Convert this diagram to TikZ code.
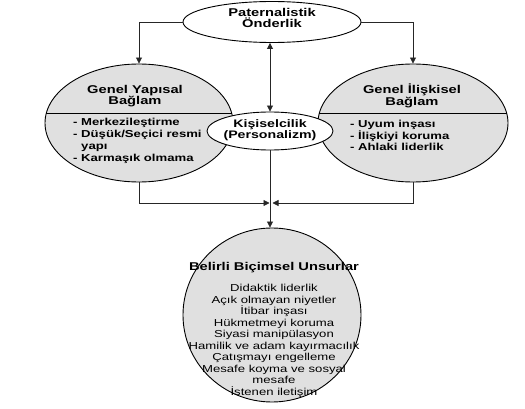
\documentclass[tikz,border=0pt]{standalone}
\usepackage{fontspec}
\setmainfont{Liberation Sans}[FakeStretch=1.3]
\usetikzlibrary{shapes.geometric,arrows.meta}
\tikzset{
	bubble/.style={draw=black, line width=0.9pt, ellipse, inner sep=0pt},
	greybubble/.style={bubble, fill=black!12},
	whitebubble/.style={bubble, fill=white},
	headtext/.style={font=\bfseries\fontsize{11.3}{11.5}\selectfont, align=center, inner sep=0pt},
	pointtext/.style={font=\bfseries\fontsize{10.1}{11.8}\selectfont, align=left, anchor=west, inner sep=0pt},
	plaintext/.style={font=\fontsize{10.1}{11.5}\selectfont, align=center, inner sep=0pt},
	link/.style={line width=0.8pt, color=black!85, -{Triangle[width=6pt,length=6pt]}}
}

\begin{document}
\begin{tikzpicture}[x=1pt, y=-1pt]
		%%%%% START %%%%%
		\useasboundingbox (0, 0) rectangle (525, 409);
		
		\node[whitebubble, minimum width=178, minimum height=41] (lead) at (272, 22) {};
		\node[greybubble, minimum width=188, minimum height=118] (struct) at (139, 123) {};
		\node[greybubble, minimum width=190, minimum height=118] (relat) at (413, 123) {};
		\draw[line width=0.9pt] (46.4, 113) -- (231.6, 113);
		\draw[line width=0.9pt] (319.4, 113) -- (506.6, 113);
		\node[whitebubble, minimum width=126, minimum height=38] (person) at (270, 131) {};
		\node[greybubble, minimum width=178, minimum height=174] (forms) at (272, 315) {};
		
		% texts
		\node[headtext] (leadtxt) at (272, 18) {Paternalistik\\Önderlik};
		\node[headtext] (structtxt) at (135, 96) {Genel Yapısal\\Bağlam};
		\node[pointtext] (structlist) at (73, 141) {- Merkezileştirme\\- Düşük/Seçici resmi\\\phantom{- }yapı\\- Karmaşık olmama};
		\node[headtext] (relattxt) at (412, 96) {Genel İlişkisel\\Bağlam};
		\node[pointtext] (relatlist) at (350, 135.5) {- Uyum inşası\\- İlişkiyi koruma\\- Ahlaki liderlik};
		\node[headtext, font=\bfseries\fontsize{10.9}{11}\selectfont] (persontxt) at (270, 130) {Kişiselcilik\\(Personalizm)};
		\node[headtext] (formstxt) at (274, 268) {Belirli Biçimsel Unsurlar};
		\node[plaintext] (formslist) at (274, 341) {Didaktik liderlik\\Açık olmayan niyetler\\İtibar inşası\\Hükmetmeyi koruma\\Siyasi manipülasyon\\Hamilik ve adam kayırmacılık\\Çatışmayı engelleme\\Mesafe koyma ve sosyal\\mesafe\\İstenen iletişim};
		
		% connectors
		\coordinate (join) at (271, 203);
		\draw[link] (lead.west) -| (struct.north);
		\draw[link] (lead.east) -| (relat.north);
		\draw[link, {Triangle[width=6pt,length=6pt]}-{Triangle[width=6pt,length=6pt]}] (lead.south -| person.north) -- (person.north);
		\draw[link] (struct.south) |- ([xshift=-1.5pt]join);
		\draw[link] (relat.south) |- ([xshift=1.5pt]join);
		\draw[link] (person.south) -- (person.south |- forms.north);
		
		%%%%% END %%%%%
	\end{tikzpicture}
\end{document}
